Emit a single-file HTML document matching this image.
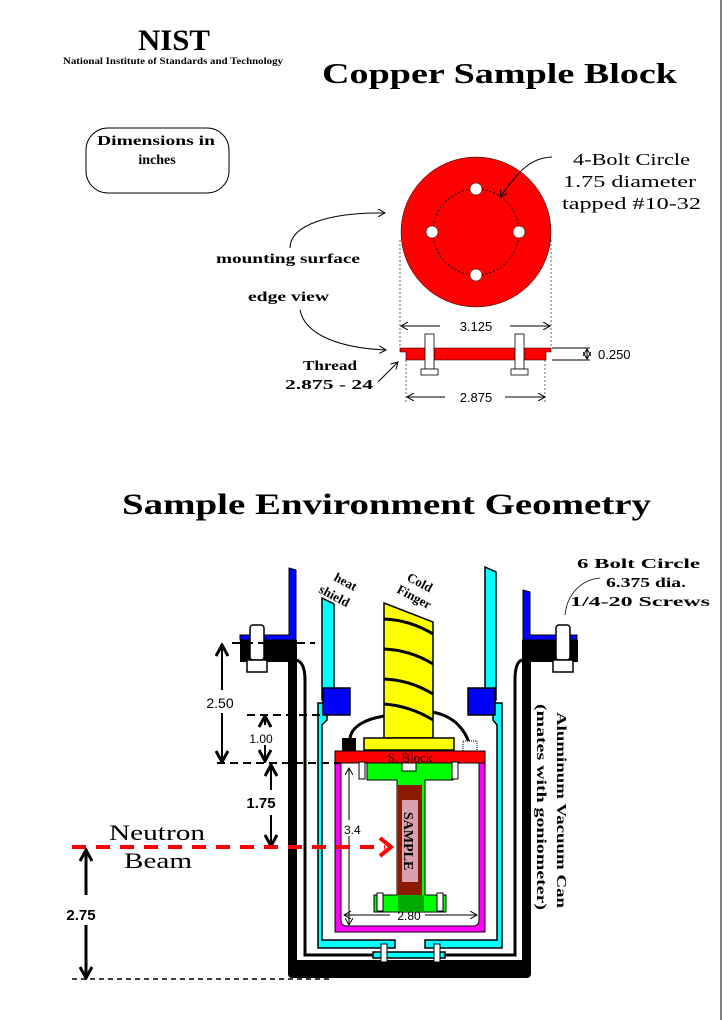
<!DOCTYPE html>
<html><head><meta charset="utf-8"><style>
html,body{margin:0;padding:0;background:#fff;}
svg{display:block;}
text{font-family:"Liberation Serif",serif;}
.b{font-weight:bold;}
.s{font-family:"Liberation Sans",sans-serif;}
</style></head><body>
<svg width="722" height="1020" viewBox="0 0 722 1020" xmlns="http://www.w3.org/2000/svg">
<defs>
<marker id="ah" markerWidth="8" markerHeight="8" refX="7" refY="4" orient="auto" markerUnits="userSpaceOnUse"><path d="M0,0 L7,4 L0,8" fill="none" stroke="#000" stroke-width="1"/></marker>
<marker id="ab" markerWidth="14" markerHeight="14" refX="12" refY="7" orient="auto" markerUnits="userSpaceOnUse"><path d="M1,1 L12,7 L1,13" fill="none" stroke="#000" stroke-width="3"/></marker>
</defs>
<rect x="0" y="0" width="722" height="1020" fill="#fff"/>
<line x1="721" y1="0" x2="721" y2="1020" stroke="#000"/>
<text x="138" y="50" font-family="Liberation Sans,sans-serif" font-size="30" font-weight="bold" textLength="72" lengthAdjust="spacingAndGlyphs" fill="#000">NIST</text>
<text x="63" y="64" font-family="Liberation Sans,sans-serif" font-size="9.5" font-weight="bold" textLength="220" lengthAdjust="spacingAndGlyphs">National Institute of Standards and Technology</text>
<text x="322" y="83" class="b" font-size="29" textLength="355" lengthAdjust="spacingAndGlyphs">Copper Sample Block</text>
<rect x="86" y="128" width="143" height="65" rx="22" fill="#fff" stroke="#000"/>
<text x="97" y="145" class="b" font-size="14" textLength="118" lengthAdjust="spacingAndGlyphs">Dimensions in</text>
<text x="157" y="164" class="b" font-size="14" text-anchor="middle">inches</text>
<circle cx="476" cy="232" r="75" fill="#f00" stroke="#000" stroke-width="0.5"/>
<circle cx="476" cy="232" r="43" fill="none" stroke="#000" stroke-dasharray="2,2"/>
<g fill="#fff" stroke="#000" stroke-width="0.5"><circle cx="476" cy="189" r="6"/><circle cx="476" cy="275" r="6"/><circle cx="432" cy="232" r="6"/><circle cx="519" cy="232" r="6"/></g>
<path d="M552,157 C530,158 520,170 500,197" fill="none" stroke="#000" marker-end="url(#ah)"/>
<text x="573" y="165" font-size="17" textLength="117" lengthAdjust="spacingAndGlyphs">4-Bolt Circle</text>
<text x="563" y="187" font-size="17" textLength="133" lengthAdjust="spacingAndGlyphs">1.75 diameter</text>
<text x="562" y="209" font-size="17" textLength="139" lengthAdjust="spacingAndGlyphs">tapped #10-32</text>
<text x="216" y="263" class="b" font-size="14" textLength="144" lengthAdjust="spacingAndGlyphs">mounting surface</text>
<text x="248" y="301" class="b" font-size="14" textLength="81" lengthAdjust="spacingAndGlyphs">edge view</text>
<path d="M290,248 C290,225 330,212 385,213" fill="none" stroke="#000" marker-end="url(#ah)"/>
<path d="M300,310 C305,335 340,348 386,350" fill="none" stroke="#000" marker-end="url(#ah)"/>
<text x="303" y="370" class="b" font-size="14" textLength="54" lengthAdjust="spacingAndGlyphs">Thread</text>
<text x="285" y="389" class="b" font-size="14" textLength="88" lengthAdjust="spacingAndGlyphs">2.875 - 24</text>
<path d="M378,382 L398,362" fill="none" stroke="#000" marker-end="url(#ah)"/>
<g stroke="#000" stroke-width="0.6" fill="none" stroke-dasharray="2,2">
<line x1="400" y1="240" x2="400" y2="348"/><line x1="551" y1="240" x2="551" y2="348"/>
<line x1="406" y1="360" x2="406" y2="402"/><line x1="545" y1="360" x2="545" y2="402"/>
</g>
<path d="M400,348 L551,348 L551,352 L546,352 L546,360 L406,360 L406,352 L400,352 Z" fill="#f00" stroke="#000" stroke-width="0.6"/>
<g fill="#fff" stroke="#000" stroke-width="0.8">
<rect x="425" y="334" width="9" height="35"/><rect x="421" y="369" width="17" height="6"/>
<rect x="515" y="334" width="9" height="35"/><rect x="511" y="369" width="17" height="6"/>
</g>
<line x1="440" y1="326" x2="401" y2="326" stroke="#000" marker-end="url(#ah)"/>
<line x1="510" y1="326" x2="550" y2="326" stroke="#000" marker-end="url(#ah)"/>
<text x="476" y="331" class="s" font-size="13" text-anchor="middle">3.125</text>
<line x1="445" y1="397" x2="407" y2="397" stroke="#000" marker-end="url(#ah)"/>
<line x1="505" y1="397" x2="545" y2="397" stroke="#000" marker-end="url(#ah)"/>
<text x="476" y="402" class="s" font-size="13" text-anchor="middle">2.875</text>
<line x1="552" y1="348" x2="590" y2="348" stroke="#000"/><line x1="552" y1="360" x2="590" y2="360" stroke="#000"/>
<line x1="587" y1="354" x2="587" y2="349" stroke="#000" marker-end="url(#ah)"/><line x1="587" y1="354" x2="587" y2="359" stroke="#000" marker-end="url(#ah)"/>
<text x="598" y="359" class="s" font-size="13">0.250</text>

<text x="122" y="514" class="b" font-size="30" textLength="529" lengthAdjust="spacingAndGlyphs">Sample Environment Geometry</text>

<g fill="#000">
<rect x="288" y="640" width="9" height="335"/>
<rect x="522" y="640" width="9" height="330"/>
<rect x="240" y="640" width="56" height="22"/>
<rect x="522" y="640" width="56" height="22"/>
<rect x="288" y="960" width="243" height="18" rx="4"/>
</g>
<path d="M296,660 Q305,662 305,680 L305,955 L515,955 L515,680 Q515,662 522,660" fill="none" stroke="#000" stroke-width="3"/>
<path d="M289,568 L296,570 L296,640 L240,640 L240,635 L289,635 Z" fill="#00f" stroke="#000"/>
<path d="M523,590 L530,592 L530,635 L577,635 L577,640 L523,640 Z" fill="#00f" stroke="#000"/>
<g fill="#fff" stroke="#000" stroke-width="1.5">
<rect x="250" y="625" width="14" height="35" rx="3"/><rect x="247" y="660" width="20" height="12"/>
<rect x="556" y="625" width="14" height="35" rx="3"/><rect x="553" y="660" width="20" height="12"/>
</g>
<g fill="#0ff" stroke="#000" stroke-width="1.5">
<path d="M322,598 L334,604 L334,700 L322,700 Z"/>
<path d="M485,567 L496,572 L496,700 L485,700 Z"/>
<path d="M318,703 L327,703 L327,720 L322,725 L322,940 L395,940 L395,948 L318,948 Z"/>
<path d="M493,703 L502,703 L502,948 L425,948 L425,940 L497,940 L497,725 L493,720 Z"/>
<rect x="373" y="952" width="72" height="6"/>
</g>
<g fill="#00f" stroke="#000" stroke-width="1.5">
<rect x="323" y="688" width="27" height="27"/><rect x="468" y="688" width="27" height="27"/>
</g>
<path d="M335,755 L485,755 L485,932 L335,932 Z" fill="#f0f" stroke="#000"/>
<path d="M341,763 L479,763 L479,920 Q479,926 473,926 L347,926 Q341,926 341,920 Z" fill="#fff" stroke="#000"/>
<path d="M350,740 C350,725 370,718 385,716" fill="none" stroke="#000" stroke-width="3"/>
<path d="M432,712 C455,716 465,730 470,745" fill="none" stroke="#000" stroke-width="3"/>
<rect x="342" y="738" width="14" height="14" fill="#000"/>
<rect x="463" y="741" width="14" height="10" fill="#fff" stroke="#000" stroke-dasharray="1,1"/>
<path d="M384,603 L433,622 L433,738 L384,738 Z" fill="#ff0" stroke="#000" stroke-width="1.5"/>
<g fill="none" stroke="#000" stroke-width="3">
<path d="M384,619 Q410,620 433,634"/><path d="M384,649 Q410,650 433,664"/><path d="M384,679 Q410,680 433,694"/><path d="M384,704 Q410,706 433,720"/>
</g>
<rect x="364" y="738" width="90" height="12" fill="#ff0" stroke="#000" stroke-width="1.5"/>
<rect x="335" y="751" width="150" height="12" fill="#f00" stroke="#000"/>
<text x="410" y="762" font-size="13" text-anchor="middle">S. Block</text>
<path d="M367,763 L453,763 L453,780 L425,780 L425,895 L446,895 L446,912 L374,912 L374,895 L397,895 L397,780 L367,780 Z" fill="#0f0" stroke="#000"/>
<rect x="402" y="763" width="14" height="8" fill="#fff" stroke="#000"/>
<rect x="398" y="895" width="26" height="17" fill="#0a0"/>
<rect x="398" y="785" width="24" height="110" fill="#8b1a00"/>
<rect x="402" y="800" width="16" height="82" fill="#d8a0b0"/>
<text transform="translate(404,812) rotate(90)" class="b" font-size="14">SAMPLE</text>
<g fill="#fff" stroke="#000"><rect x="359" y="762" width="6" height="17"/><rect x="452" y="762" width="6" height="17"/><rect x="377" y="893" width="6" height="18"/><rect x="437" y="893" width="6" height="18"/><rect x="381" y="944" width="6" height="18"/><rect x="434" y="944" width="6" height="18"/></g>
<line x1="390" y1="915" x2="344" y2="915" stroke="#000" marker-end="url(#ah)"/>
<line x1="425" y1="915" x2="477" y2="915" stroke="#000" marker-end="url(#ah)"/>
<text x="409" y="920" class="s" font-size="12" text-anchor="middle">2.80</text>
<line x1="349" y1="820" x2="349" y2="768" stroke="#000" marker-end="url(#ah)"/>
<line x1="349" y1="836" x2="349" y2="925" stroke="#000" marker-end="url(#ah)"/>
<text x="344" y="834" class="s" font-size="12">3.4</text>
<g stroke="#000" stroke-width="2" stroke-dasharray="8,5" fill="none">
<line x1="232" y1="643" x2="315" y2="643"/>
<line x1="247" y1="715" x2="320" y2="715"/>
<line x1="217" y1="763" x2="340" y2="763"/>
</g>
<line x1="72" y1="979" x2="330" y2="979" stroke="#000" stroke-width="1.5" stroke-dasharray="5,4"/>
<line x1="222" y1="690" x2="222" y2="645" stroke="#000" stroke-width="2" marker-end="url(#ab)"/>
<line x1="222" y1="713" x2="222" y2="762" stroke="#000" stroke-width="2" marker-end="url(#ab)"/>
<text x="220" y="708" class="s" font-size="14" text-anchor="middle">2.50</text>
<line x1="265" y1="725" x2="265" y2="716" stroke="#000" stroke-width="2" marker-end="url(#ab)"/>
<line x1="265" y1="745" x2="265" y2="761" stroke="#000" stroke-width="2" marker-end="url(#ab)"/>
<text x="261" y="743" class="s" font-size="12" text-anchor="middle">1.00</text>
<line x1="271" y1="790" x2="271" y2="765" stroke="#000" stroke-width="2" marker-end="url(#ab)"/>
<line x1="271" y1="815" x2="271" y2="846" stroke="#000" stroke-width="2" marker-end="url(#ab)"/>
<text x="261" y="808" class="b s" font-size="15" text-anchor="middle">1.75</text>
<line x1="86" y1="895" x2="86" y2="850" stroke="#000" stroke-width="3" marker-end="url(#ab)"/>
<line x1="86" y1="925" x2="86" y2="978" stroke="#000" stroke-width="3" marker-end="url(#ab)"/>
<text x="81" y="920" class="b s" font-size="15" text-anchor="middle">2.75</text>
<line x1="72" y1="847" x2="385" y2="847" stroke="#f00" stroke-width="4" stroke-dasharray="14,10"/>
<path d="M380,838 L391,847 L380,856" fill="none" stroke="#f00" stroke-width="4"/>
<text x="109" y="840" font-size="22" textLength="96" lengthAdjust="spacingAndGlyphs">Neutron</text>
<text x="124" y="868" font-size="22" textLength="68" lengthAdjust="spacingAndGlyphs">Beam</text>
<text transform="translate(333,580) rotate(28)" class="b" font-size="13">heat</text>
<text transform="translate(318,592) rotate(28)" class="b" font-size="13">shield</text>
<text transform="translate(406,580) rotate(28)" class="b" font-size="13">Cold</text>
<text transform="translate(396,592) rotate(28)" class="b" font-size="13">Finger</text>
<text x="577" y="568" class="b" font-size="14" textLength="123" lengthAdjust="spacingAndGlyphs">6 Bolt Circle</text>
<text x="606" y="587" class="b" font-size="14" textLength="80" lengthAdjust="spacingAndGlyphs">6.375 dia.</text>
<text x="570" y="606" class="b" font-size="14" textLength="140" lengthAdjust="spacingAndGlyphs">1/4-20 Screws</text>
<path d="M600,578 C580,580 567,595 565,615" fill="none" stroke="#000" stroke-width="0.8"/>
<text transform="translate(557,712) rotate(90)" class="b" font-size="14" textLength="196" lengthAdjust="spacingAndGlyphs">Aluminum Vacuum Can</text>
<text transform="translate(537,704) rotate(90)" class="b" font-size="14" textLength="206" lengthAdjust="spacingAndGlyphs">(mates with goniometer)</text>
</svg>
</body></html>
